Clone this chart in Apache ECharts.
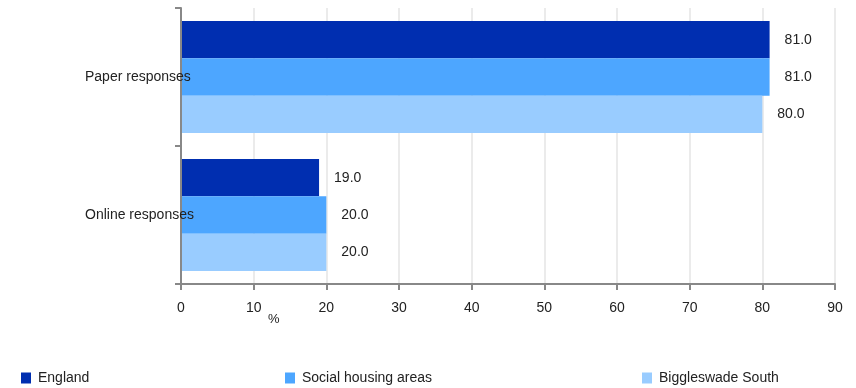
<!DOCTYPE html>
<html><head><meta charset="utf-8">
<script src="https://cdn.jsdelivr.net/npm/echarts@6/dist/echarts.min.js"></script>
<style>html,body{margin:0;padding:0;background:#fff}#c{width:856px;height:388px}</style>
</head><body><div id="c"></div>
<script>
const categories = ['Paper responses', 'Online responses'];
const seriesNames = ['England', 'Social housing areas', 'Biggleswade South'];
const england = [81, 19];
const socialHousing = [81, 20];
const biggleswade = [80, 20];
const xTicks = [0, 10, 20, 30, 40, 50, 60, 70, 80, 90];
const colors = ['#002eb0', '#4da6ff', '#99ccff'];
const values = [england, socialHousing, biggleswade];
const font = 'Liberation Sans, Arial, sans-serif';

const chart = echarts.init(document.getElementById('c'));
const legendLefts = [21, 285, 642];
chart.setOption({
  animation: false,
  textStyle: { fontFamily: font },
  grid: { left: 181, right: 21, top: 8, bottom: 104 },
  xAxis: {
    type: 'value', min: xTicks[0], max: xTicks[xTicks.length - 1], interval: 10,
    axisLine: { show: true, lineStyle: { color: '#888', width: 2 } },
    axisTick: { show: true, length: 6, lineStyle: { color: '#888', width: 2 } },
    axisLabel: { color: '#222', fontSize: 14, margin: 17, fontFamily: font },
    splitLine: { show: true, lineStyle: { color: '#ebebeb', width: 2 } }
  },
  yAxis: {
    type: 'category', data: categories, inverse: true, z: 10,
    axisLine: { show: true, lineStyle: { color: '#888', width: 2 } },
    axisTick: { show: true, length: 6, lineStyle: { color: '#888', width: 2 } },
    axisLabel: { color: '#222', fontSize: 14, margin: 96, align: 'left', fontFamily: font },
    splitLine: { show: false }
  },
  legend: seriesNames.map((n, i) => ({
    data: [n], left: legendLefts[i], top: 371, padding: 0, icon: 'rect', itemWidth: 10, itemHeight: 11, itemGap: 8,
    textStyle: { color: '#222', fontSize: 14, fontFamily: font, padding: [0, 0, 0, 2] }, selectedMode: false
  })),
  graphic: [{ type: 'text', left: 268, top: 313, style: { text: '%', fill: '#222', font: '13px ' + font } }],
  series: seriesNames.map((n, i) => ({
    name: n, type: 'bar', data: values[i], barGap: 0, barCategoryGap: '19%',
    itemStyle: { color: colors[i] },
    label: { show: true, position: 'right', distance: 15, color: '#222', fontSize: 14, fontFamily: font,
      formatter: p => p.value.toFixed(1) }
  }))
});
</script></body></html>
